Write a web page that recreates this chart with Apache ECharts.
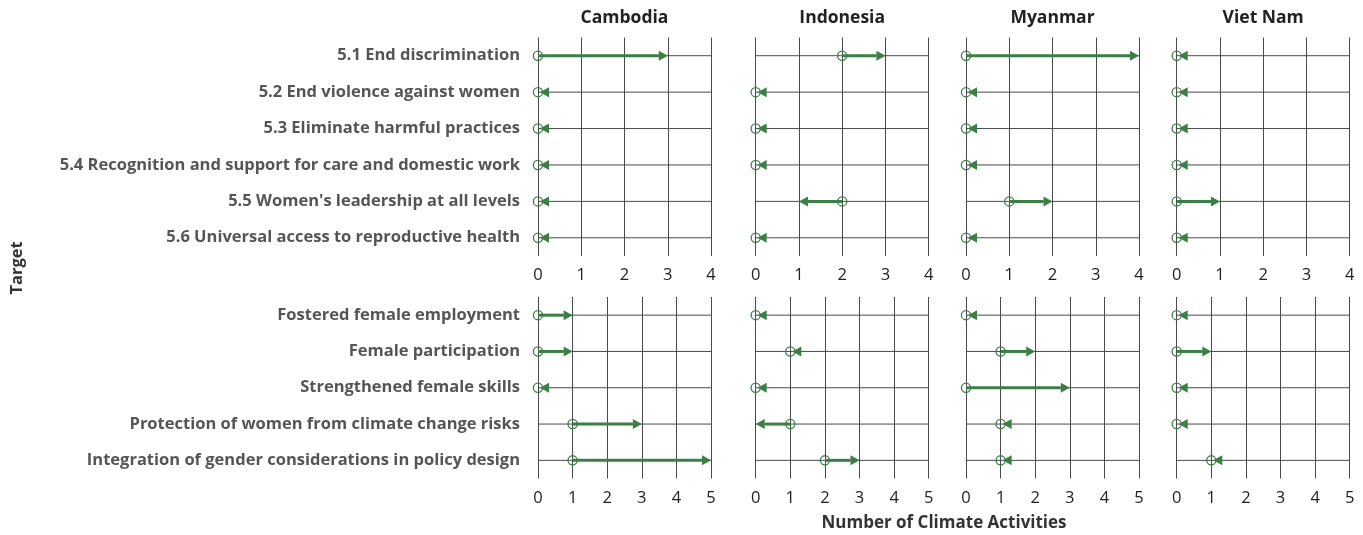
<!DOCTYPE html>
<html>
<head>
<meta charset="utf-8">
<script src="https://cdn.jsdelivr.net/npm/echarts@6/dist/echarts.min.js"></script>
<style>
  html, body { margin: 0; padding: 0; background: #fff; }
  #chart { width: 1363px; height: 535px; }
</style>
</head>
<body>
<div id="chart"></div>
<script>
// data
var countries = ['Cambodia', 'Indonesia', 'Myanmar', 'Viet Nam'];
var targets = [
    '5.1 End discrimination',
    '5.2 End violence against women',
    '5.3 Eliminate harmful practices',
    '5.4 Recognition and support for care and domestic work',
    "5.5 Women's leadership at all levels",
    '5.6 Universal access to reproductive health'
];
var outcomes = [
    'Fostered female employment',
    'Female participation',
    'Strengthened female skills',
    'Protection of women from climate change risks',
    'Integration of gender considerations in policy design'
];
var targetTicks = [0, 1, 2, 3, 4];
var outcomeTicks = [0, 1, 2, 3, 4, 5];

// top panel: from -> to, one array per country
var cambodiaTargetFrom  = [0, 0, 0, 0, 0, 0];
var cambodiaTargetTo    = [3, 0, 0, 0, 0, 0];
var indonesiaTargetFrom = [2, 0, 0, 0, 2, 0];
var indonesiaTargetTo   = [3, 0, 0, 0, 1, 0];
var myanmarTargetFrom   = [0, 0, 0, 0, 1, 0];
var myanmarTargetTo     = [4, 0, 0, 0, 2, 0];
var vietnamTargetFrom   = [0, 0, 0, 0, 0, 0];
var vietnamTargetTo     = [0, 0, 0, 0, 1, 0];

// bottom panel
var cambodiaOutcomeFrom  = [0, 0, 0, 1, 1];
var cambodiaOutcomeTo    = [1, 1, 0, 3, 5];
var indonesiaOutcomeFrom = [0, 1, 0, 1, 2];
var indonesiaOutcomeTo   = [0, 1, 0, 0, 3];
var myanmarOutcomeFrom   = [0, 1, 0, 1, 1];
var myanmarOutcomeTo     = [0, 2, 3, 1, 1];
var vietnamOutcomeFrom   = [0, 0, 0, 0, 1];
var vietnamOutcomeTo     = [0, 1, 0, 0, 1];

var targetFrom = [cambodiaTargetFrom, indonesiaTargetFrom, myanmarTargetFrom, vietnamTargetFrom];
var targetTo = [cambodiaTargetTo, indonesiaTargetTo, myanmarTargetTo, vietnamTargetTo];
var outcomeFrom = [cambodiaOutcomeFrom, indonesiaOutcomeFrom, myanmarOutcomeFrom, vietnamOutcomeFrom];
var outcomeTo = [cambodiaOutcomeTo, indonesiaOutcomeTo, myanmarOutcomeTo, vietnamOutcomeTo];

// layout
var FONT = '"Open Sans", Lato, sans-serif';
var GREEN = '#3b7f46';
var LINE = '#4a4a4a';
var colLeft = [538, 755.7, 966, 1176.7];
var colWidth = 173;
var panels = [
    { top: 37.5, height: 218.5, cats: targets, ticks: targetTicks, from: targetFrom, to: targetTo },
    { top: 297, height: 181.5, cats: outcomes, ticks: outcomeTicks, from: outcomeFrom, to: outcomeTo }
];

var chart = echarts.init(document.getElementById('chart'));

var grids = [], xAxes = [], yAxes = [], series = [];
panels.forEach(function (p, r) {
    var xMin = p.ticks[0], xMax = p.ticks[p.ticks.length - 1];
    countries.forEach(function (c, k) {
        var idx = grids.length;
        grids.push({ left: colLeft[k], top: p.top, width: colWidth, height: p.height });
        xAxes.push({
            type: 'value', gridIndex: idx, min: xMin, max: xMax, interval: 1,
            axisLine: { show: false },
            axisTick: { show: false },
            splitLine: { show: true, lineStyle: { color: LINE, width: 1 } },
            axisLabel: { color: '#222', fontSize: 16.5, fontFamily: FONT, margin: 11 }
        });
        yAxes.push({
            type: 'category', gridIndex: idx, data: p.cats, inverse: true,
            axisLine: { show: false },
            axisTick: { show: false },
            splitLine: { show: false },
            axisLabel: {
                show: k === 0, color: '#555', fontSize: 16.5, fontWeight: 'bold',
                fontFamily: FONT, margin: 18
            }
        });
        var rows = p.cats.map(function (name, i) {
            return [p.from[k][i], p.to[k][i], i];
        });
        series.push({
            type: 'custom', xAxisIndex: idx, yAxisIndex: idx,
            encode: { x: [0, 1], y: 2 },
            clip: false,
            data: rows,
            renderItem: function (params, api) {
                var from = api.value(0), to = api.value(1), row = api.value(2);
                var a = api.coord([xMin, row]), b = api.coord([xMax, row]);
                var p0 = api.coord([from, row]), p1 = api.coord([to, row]);
                var y = p0[1];
                var dir = to > from ? 1 : -1;
                var headLen = 9, headHalf = 5;
                var tip = to === from ? p1[0] + 2 : p1[0];
                var base = tip - dir * headLen;
                var kids = [
                    { type: 'line', shape: { x1: a[0], y1: y, x2: b[0], y2: y },
                      style: { stroke: LINE, lineWidth: 1 } }
                ];
                if (to !== from) {
                    kids.push({ type: 'line', shape: { x1: p0[0], y1: y, x2: base, y2: y },
                        style: { stroke: GREEN, lineWidth: 3 } });
                }
                kids.push({ type: 'circle', shape: { cx: p0[0], cy: y, r: 4.6 },
                    style: { fill: null, stroke: GREEN, lineWidth: 1.3 } });
                kids.push({ type: 'polygon',
                    shape: { points: [[tip, y], [base, y - headHalf], [base, y + headHalf]] },
                    style: { fill: GREEN } });
                return { type: 'group', children: kids };
            }
        });
    });
});

var graphics = countries.map(function (c, k) {
    return {
        type: 'text', x: colLeft[k] + colWidth / 2, y: 18,
        style: { text: c, align: 'center', verticalAlign: 'middle',
                 font: 'bold 17.5px ' + FONT, fill: '#222' }
    };
});
graphics.push({
    type: 'text', x: 944, y: 523,
    style: { text: 'Number of Climate Activities', align: 'center', verticalAlign: 'middle',
             font: 'bold 17px ' + FONT, fill: '#333' }
});
graphics.push({
    type: 'text', x: 17, y: 268, rotation: Math.PI / 2,
    style: { text: 'Target', align: 'center', verticalAlign: 'middle',
             font: 'bold 16.5px ' + FONT, fill: '#333' }
});

chart.setOption({
    animation: false,
    grid: grids,
    xAxis: xAxes,
    yAxis: yAxes,
    series: series,
    graphic: graphics
});
window.addEventListener('resize', chart.resize);
</script>
</body>
</html>
